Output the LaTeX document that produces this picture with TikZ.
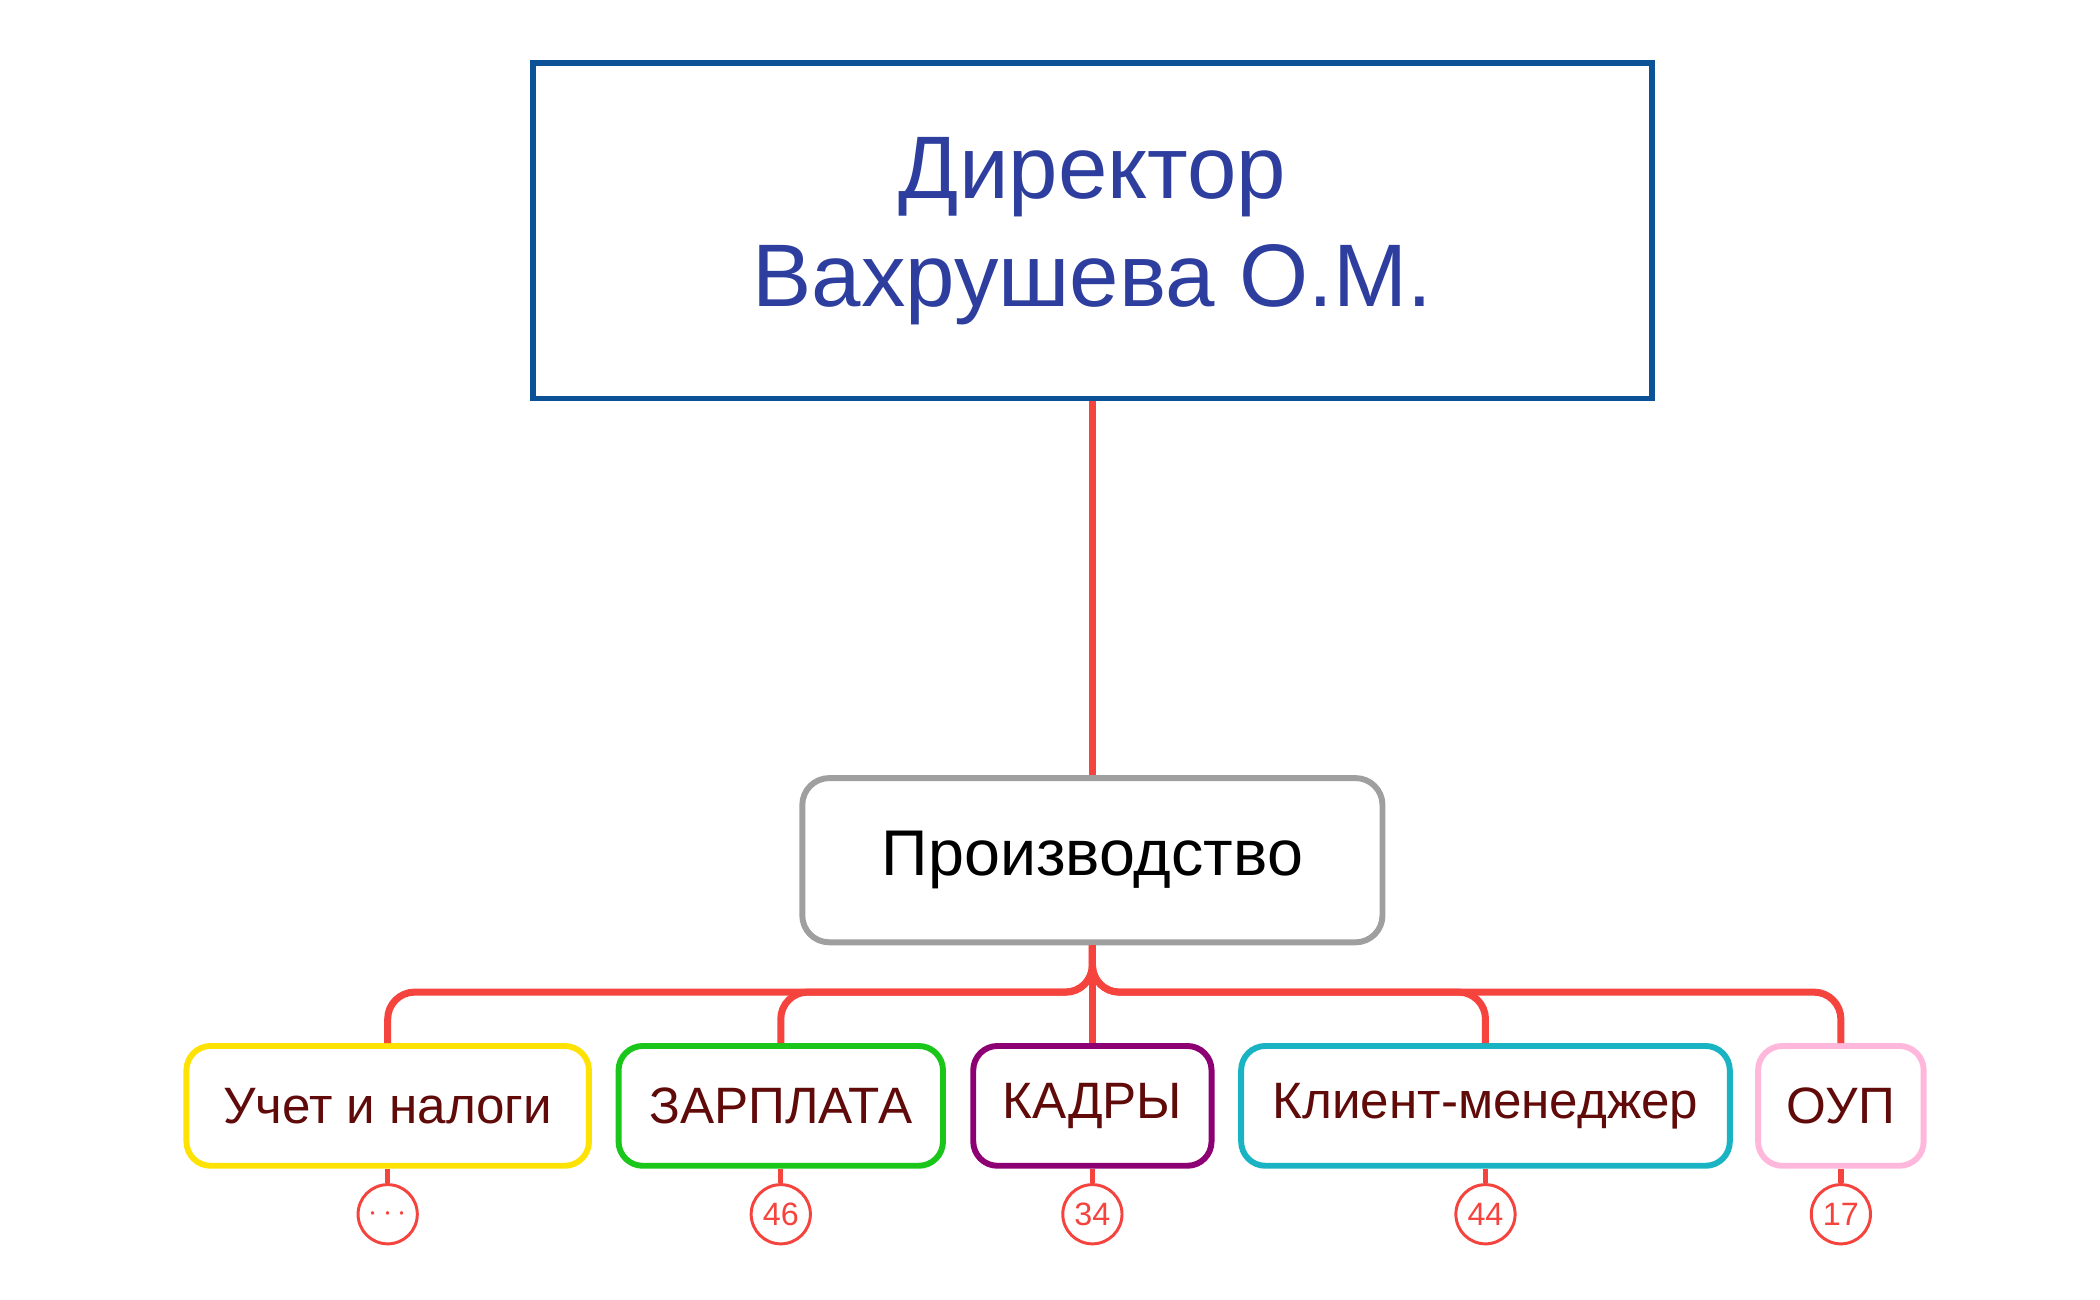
\documentclass[tikz,border=0pt]{standalone}
\usepackage{fontspec}
\setmainfont{Liberation Sans}
\definecolor{red1}{HTML}{F5433D}
\definecolor{blue1}{HTML}{0B5297}
\definecolor{blueT}{HTML}{2E3E9E}
\definecolor{txt}{HTML}{600A0A}
\begin{document}
\begin{tikzpicture}[x=0.5pt,y=-0.5pt,
 conn/.style={red1,line width=2.6pt,rounded corners=10pt},
 child/.style={draw=#1,line width=2.2pt,rounded corners=9pt,fill=white,minimum height=44.5pt,inner sep=0pt,font=\fontsize{19}{22}\selectfont,text=txt},
 cnt/.style={circle,draw=red1,line width=1.1pt,minimum size=22pt,inner sep=0pt,text=red1,font=\fontsize{12}{14}\selectfont,fill=white}]
\useasboundingbox (0,0) rectangle (1560,965);
\node[draw=blue1,line width=2.2pt,minimum width=415.5pt,minimum height=124.5pt,align=center,text=blueT,font=\fontsize{33}{40}\selectfont] (dir) at (811.5,171.5) {Директор\\ Вахрушева О.М.};
\node[draw=gray!75,line width=2.2pt,rounded corners=10pt,minimum width=215.5pt,minimum height=61pt,font=\fontsize{24}{28}\selectfont] (prod) at (811.5,639) {Производство};
\node[child={yellow!85!orange},minimum width=149.5pt] (c1) at (288,821.5) {Учет и налоги};
\node[child={green!75!black!90},minimum width=120.5pt] (c2) at (580,821.5) {ЗАРПЛАТА};
\node[child={violet!80!purple},minimum width=88.5pt] (c3) at (811.5,821.5) {КАДРЫ};
\node[child={cyan!70!green!90},minimum width=181.5pt] (c4) at (1103.5,821.5) {Клиент-менеджер};
\node[child={pink!80!magenta!70},minimum width=61.5pt] (c5) at (1367.5,821.5) {ОУП};
\coordinate (bar) at (811.5,737);
\draw[red1,line width=2.6pt] (dir.south) -- (prod.north);
\foreach \c in {c1,c2,c3,c4,c5}{
 \draw[conn] (prod.south) -- (bar) -| (\c.north);
}
\foreach \c/\n/\t in {c1/n1/$\cdots$,c2/n2/46,c3/n3/34,c4/n4/44,c5/n5/17}{
 \node[cnt] (\n) at (\c.south |- 0,902) {\t};
 \draw[red1,line width=2pt] (\c.south) -- (\n.north);
}
\end{tikzpicture}
\end{document}
